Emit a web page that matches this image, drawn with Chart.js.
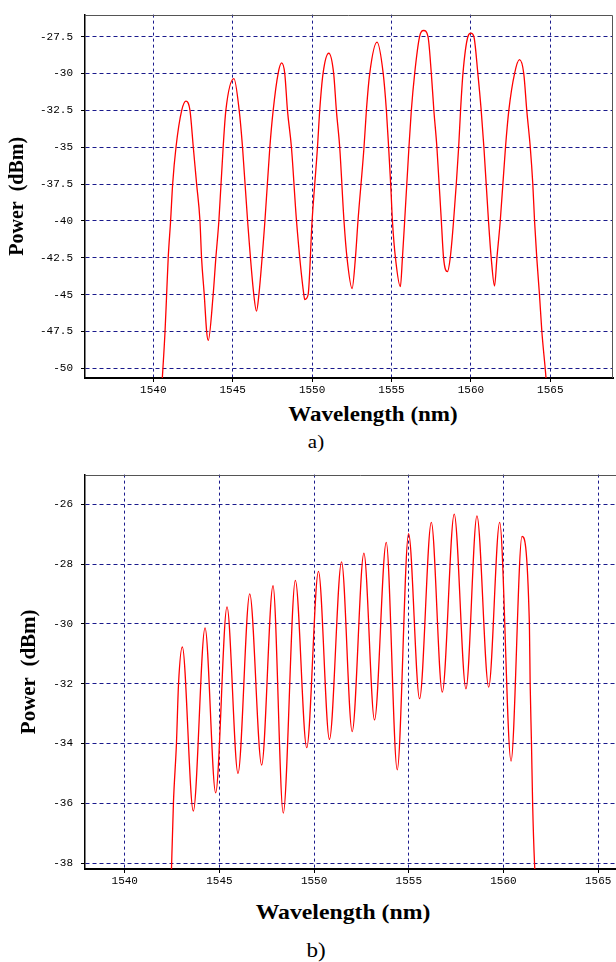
<!DOCTYPE html>
<html>
<head>
<meta charset="utf-8">
<script src="https://cdn.jsdelivr.net/npm/chart.js@4.4.1/dist/chart.umd.min.js"></script>
<style>
html,body{margin:0;padding:0;background:#fff;}
body{width:616px;height:962px;overflow:hidden;position:relative;}
.wrap{position:absolute;left:0;overflow:hidden;width:616px;}
.txt{position:absolute;width:600px;text-align:center;white-space:pre;color:#000;
     font-family:"Liberation Serif","Times New Roman",serif;line-height:1;}
.xt{font-weight:bold;}
</style>
</head>
<body>
<div class="wrap" style="top:0;height:400px;"><canvas id="ca" width="616" height="400"></canvas></div>
<div class="wrap" style="top:460px;height:430px;"><canvas id="cb" width="660" height="430"></canvas></div>
<div class="txt xt" style="left:73px;top:404px;font-size:20px;transform:scaleX(1.15);">Wavelength (nm)</div>
<div class="txt" style="left:16px;top:432px;font-size:19px;transform:scaleX(1.1);">a)</div>
<div class="txt xt" style="left:43px;top:902px;font-size:21px;transform:scaleX(1.13);">Wavelength (nm)</div>
<div class="txt" style="left:16px;top:940px;font-size:21px;transform:scaleX(1.1);">b)</div>
<script>
// ---- Chart a) data ----
const aWave = [1540.55,1540.74,1540.84,1540.94,1541.09,1541.22,1541.43,1541.79,1542.06,1542.31,1542.52,1542.73,1542.94,1543.04,1543.21,1543.36,1543.46,
  1543.77,1543.94,1544.13,1544.40,1544.57,1545.08,1545.41,1545.62,1545.94,1546.33,1546.50,
  1546.65,1547.03,1547.34,1547.55,1547.86,1548.08,1548.28,1548.45,1548.70,1549.02,1549.48,1549.54,
  1549.75,1550.00,1550.34,1550.48,1550.69,1551.05,1551.36,1551.53,1551.74,1552.01,1552.20,1552.52,
  1552.73,1552.89,1553.27,1553.42,1553.63,1554.09,1554.48,1554.68,1554.82,1554.95,1555.06,1555.25,1555.56,
  1555.69,1555.83,1556.10,1556.25,1556.46,1556.77,1557.03,1557.30,1557.51,1557.67,1557.86,1558.14,1558.28,1558.52,
  1558.70,1558.91,1559.23,1559.35,1559.50,1559.81,1560.00,1560.19,1560.44,1560.65,1560.82,1561.11,1561.28,1561.49,
  1561.64,1561.85,1562.18,1562.39,1562.75,1563.06,1563.33,1563.52,1563.74,1563.90,1564.01,1564.15,1564.32,1564.47,1564.68,1564.76];
const aPower = [-51,-47.5,-45,-42.5,-40,-37.5,-35,-32.5,-31.87,-32.5,-35,-37.5,-40,-42.5,-45,-47.5,-48.1,
  -45,-42.5,-40,-35,-32.5,-30.34,-32.5,-35,-40,-45,-46.12,
  -45,-40,-35,-32.5,-30,-29.28,-30,-32.5,-35,-40,-45,-45.33,
  -45,-40,-35,-32.5,-30,-28.62,-30,-32.5,-35,-40,-42.5,-44.58,
  -42.5,-40,-35,-32.5,-30,-27.87,-30,-32.5,-35,-37.5,-40,-42.5,-44.45,
  -42.5,-40,-35,-32.5,-30,-27.5,-27.08,-27.5,-30,-32.5,-35,-40,-42.5,-43.44,
  -42.5,-40,-35,-32.5,-30,-27.5,-27.26,-27.5,-30,-32.5,-35,-40,-42.5,-44.41,
  -42.5,-40,-35,-32.5,-30,-29.06,-30,-32.5,-35,-37.5,-40,-42.5,-45,-47.5,-50,-51];
const aXTicks = [1540,1545,1550,1555,1560,1565];
const aYTicks = [-27.5,-30,-32.5,-35,-37.5,-40,-42.5,-45,-47.5,-50];

// ---- Chart b) data ----
const bWave = [1542.45,1542.57,1542.73,1542.84,1543.04,1543.62,1544.24,1544.80,1545.40,1545.98,1546.60,1547.23,1547.83,1548.37,
  1549.01,1549.61,1550.23,1550.81,1551.45,1552.01,1552.63,1553.19,1553.81,1554.39,1554.99,1555.57,1556.19,1556.77,
  1557.40,1558.02,1558.60,1559.22,1559.80,1560.40,1560.98,1561.37,1561.41,1561.48,1561.54,1561.64,1561.70];
const bPower = [-38.6,-36,-34,-32,-30.77,-36.26,-30.13,-35.65,-29.43,-35.0,-28.99,-34.72,-28.72,-36.33,
  -28.54,-34.14,-28.24,-33.86,-27.92,-33.60,-27.63,-33.21,-27.27,-34.88,-26.98,-32.50,-26.60,-32.28,
  -26.32,-32.17,-26.38,-32.11,-26.60,-34.59,-27.07,-30,-32,-34,-36,-38,-38.6];
const bXTicks = [1540,1545,1550,1555,1560,1565];
const bYTicks = [-26,-28,-30,-32,-34,-36,-38];

const frame = {
  id: 'frame',
  beforeDatasetsDraw(chart, args, opts) {
    const {ctx, chartArea: a} = chart;
    ctx.save();
    ctx.strokeStyle = opts.color;
    ctx.lineWidth = opts.width;
    const t = Math.round(a.top) + 0.5, r = Math.round(a.right) - 0.5;
    ctx.beginPath();
    ctx.moveTo(a.left, t); ctx.lineTo(r, t); ctx.lineTo(r, a.bottom);
    ctx.stroke();
    ctx.restore();
  }
};

const tickFont = {family: '"Liberation Mono","DejaVu Sans Mono",monospace', size: 11};

function makeChart(id, wave, power, xTicks, yTicks, o) {
  return new Chart(document.getElementById(id), {
    type: 'line',
    data: {datasets: [{
      data: wave.map((x, i) => ({x: x, y: power[i]})),
      borderColor: '#ff0000', borderWidth: 1.3, pointRadius: 0,
      cubicInterpolationMode: 'monotone', fill: false
    }]},
    options: {
      responsive: false, animation: false, devicePixelRatio: 1,
      layout: {padding: o.padding},
      plugins: {legend: {display: false}, tooltip: {enabled: false}, frame: {color: '#555', width: 1}},
      scales: {
        x: {
          type: 'linear', min: o.xmin, max: o.xmax,
          afterBuildTicks: s => { s.ticks = xTicks.map(v => ({value: v})); },
          afterFit: s => { s.height = o.xh; },
          grid: {color: '#1a1a8c', lineWidth: 1, drawTicks: true, tickLength: 4, tickColor: '#000', tickWidth: 1, tickBorderDash: []},
          border: {display: true, color: '#000', width: 2, dash: [3, 3]},
          ticks: {font: tickFont, color: '#000', padding: 1, maxRotation: 0, autoSkip: false, callback: v => String(v)}
        },
        y: {
          type: 'linear', min: o.ymin, max: o.ymax,
          afterBuildTicks: s => { s.ticks = yTicks.map(v => ({value: v})); },
          afterFit: s => { s.width = 85; },
          grid: {color: '#1a1a8c', lineWidth: 1, drawTicks: true, tickLength: 4, tickColor: '#000', tickWidth: 1, tickBorderDash: []},
          border: {display: true, color: '#000', width: 1.5, dash: [4, 3]},
          ticks: {font: tickFont, color: '#000', padding: 8, autoSkip: false, callback: v => String(v)},
          title: {display: true, text: 'Power  (dBm)', color: '#000',
                  font: {family: '"Liberation Serif","Times New Roman",serif', size: o.ytSize, weight: 'bold'},
                  padding: {top: o.ytPad, bottom: 0}}
        }
      }
    },
    plugins: [frame]
  });
}

makeChart('ca', aWave, aPower, aXTicks, aYTicks,
  {padding: {top: 4, right: 3, bottom: 0, left: 0}, xmin: 1535.7, xmax: 1568.95, ymin: -50.65, ymax: -26, xh: 22, ytSize: 20, ytPad: 6});
makeChart('cb', bWave, bPower, bXTicks, bYTicks,
  {padding: {top: 7, right: 24, bottom: 0, left: 0}, xmin: 1537.9, xmax: 1567.0, ymin: -38.2, ymax: -25, xh: 21, ytSize: 21, ytPad: 17});
</script>
</body>
</html>
